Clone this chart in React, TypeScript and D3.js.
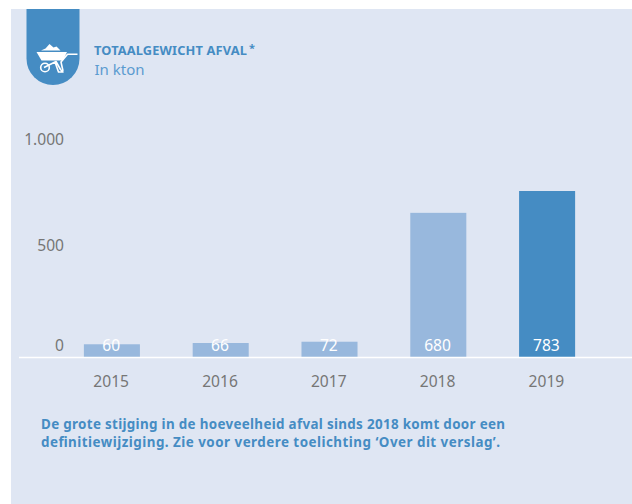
import React from "react";
import * as d3 from "d3";

const years = ["2015", "2016", "2017", "2018", "2019"];
const values = [60, 66, 72, 680, 783];
const valueLabels = ["60", "66", "72", "680", "783"];
const yTicks = [0, 500, 1000];
const yTickLabels = ["0", "500", "1.000"];
const title = "TOTAALGEWICHT AFVAL";
const subtitle = "In kton";
const note = [
  "De grote stijging in de hoeveelheid afval sinds 2018 komt door een",
  "definitiewijziging. Zie voor verdere toelichting ‘Over dit verslag’.",
];
const noteWidths = [464, 459];

const BLUE = "#458cc3";
const LIGHT = "#98b8dd";
const BG = "#dfe6f3";
const GREY = "#767676";
const FONT = "'Noto Sans', 'Open Sans', sans-serif";

export default function App() {
  const x = d3.scaleBand<string>().domain(years).range([57.5, 601.5]).paddingInner(0.485).paddingOuter(0.2425);
  const y = d3.scaleLinear().domain([0, 1000]).range([357, 145]);
  return (
    <svg width={632} height={504} style={{ position: "fixed", left: 0, top: 0, fontFamily: FONT }}>
      <rect x={0} y={0} width={632} height={504} fill="#fff" />
      <rect x={11} y={9} width={621} height={495} fill={BG} />
      <path d="M26.5 9H79.5V58.5A26.5 26.5 0 0 1 26.5 58.5Z" fill={BLUE} />
      <g fill="#fff">
        <path d="M41 50.5L45.5 48.5L49.5 44L53.5 47.5L56.5 46.5L60.5 50.5Z" />
        <path d="M36.5 52H67L63 60.5H41.5Z" />
      </g>
      <g fill="none" stroke="#fff" strokeWidth={1.6} strokeLinejoin="round">
        <circle cx={45} cy={67.5} r={4.3} />
        <path d="M44 67.5L56 61.5L60.5 69.5L63 72H58.5L55 62" />
        <path d="M63 71L61 62L67.5 54.2H77.5" />
      </g>
      <text x={94} y={55} fontSize={12.8} fontWeight={700} letterSpacing={0.15} fill={BLUE}>{title}</text>
      <text x={249} y={52} fontSize={11} fontWeight={700} fill={BLUE}>*</text>
      <text x={94.5} y={75} fontSize={15} fill={"#5b9bd0"}>{subtitle}</text>

      {yTicks.map((t, i) => (
        <text key={t} x={64} y={y(t) + (t === 0 ? -6 : 0)} textAnchor="end" fontSize={15.6} fill={GREY}>{yTickLabels[i]}</text>
      ))}

      {years.map((yr, i) => (
        <rect key={yr} x={x(yr)} y={y(values[i])} width={x.bandwidth()} height={y(0) - y(values[i])} fill={i === 4 ? BLUE : LIGHT} />
      ))}
      <line x1={19} x2={632} y1={357.5} y2={357.5} stroke="#fff" strokeWidth={1.5} />
      {years.map((yr, i) => (
        <text key={yr} x={x(yr)! + x.bandwidth() / 2 - 0.7} y={350.5} textAnchor="middle" fontSize={15.6} fill="#fff">{valueLabels[i]}</text>
      ))}
      {years.map((yr) => (
        <text key={yr} x={x(yr)! + x.bandwidth() / 2 - 0.7} y={387} textAnchor="middle" fontSize={15.6} fill={GREY}>{yr}</text>
      ))}
      {note.map((l, i) => (
        <text key={i} x={41} y={429 + i * 17.5} fontSize={13.4} fontWeight={700} textLength={noteWidths[i]} lengthAdjust="spacing" fill={BLUE}>{l}</text>
      ))}
    </svg>
  );
}
